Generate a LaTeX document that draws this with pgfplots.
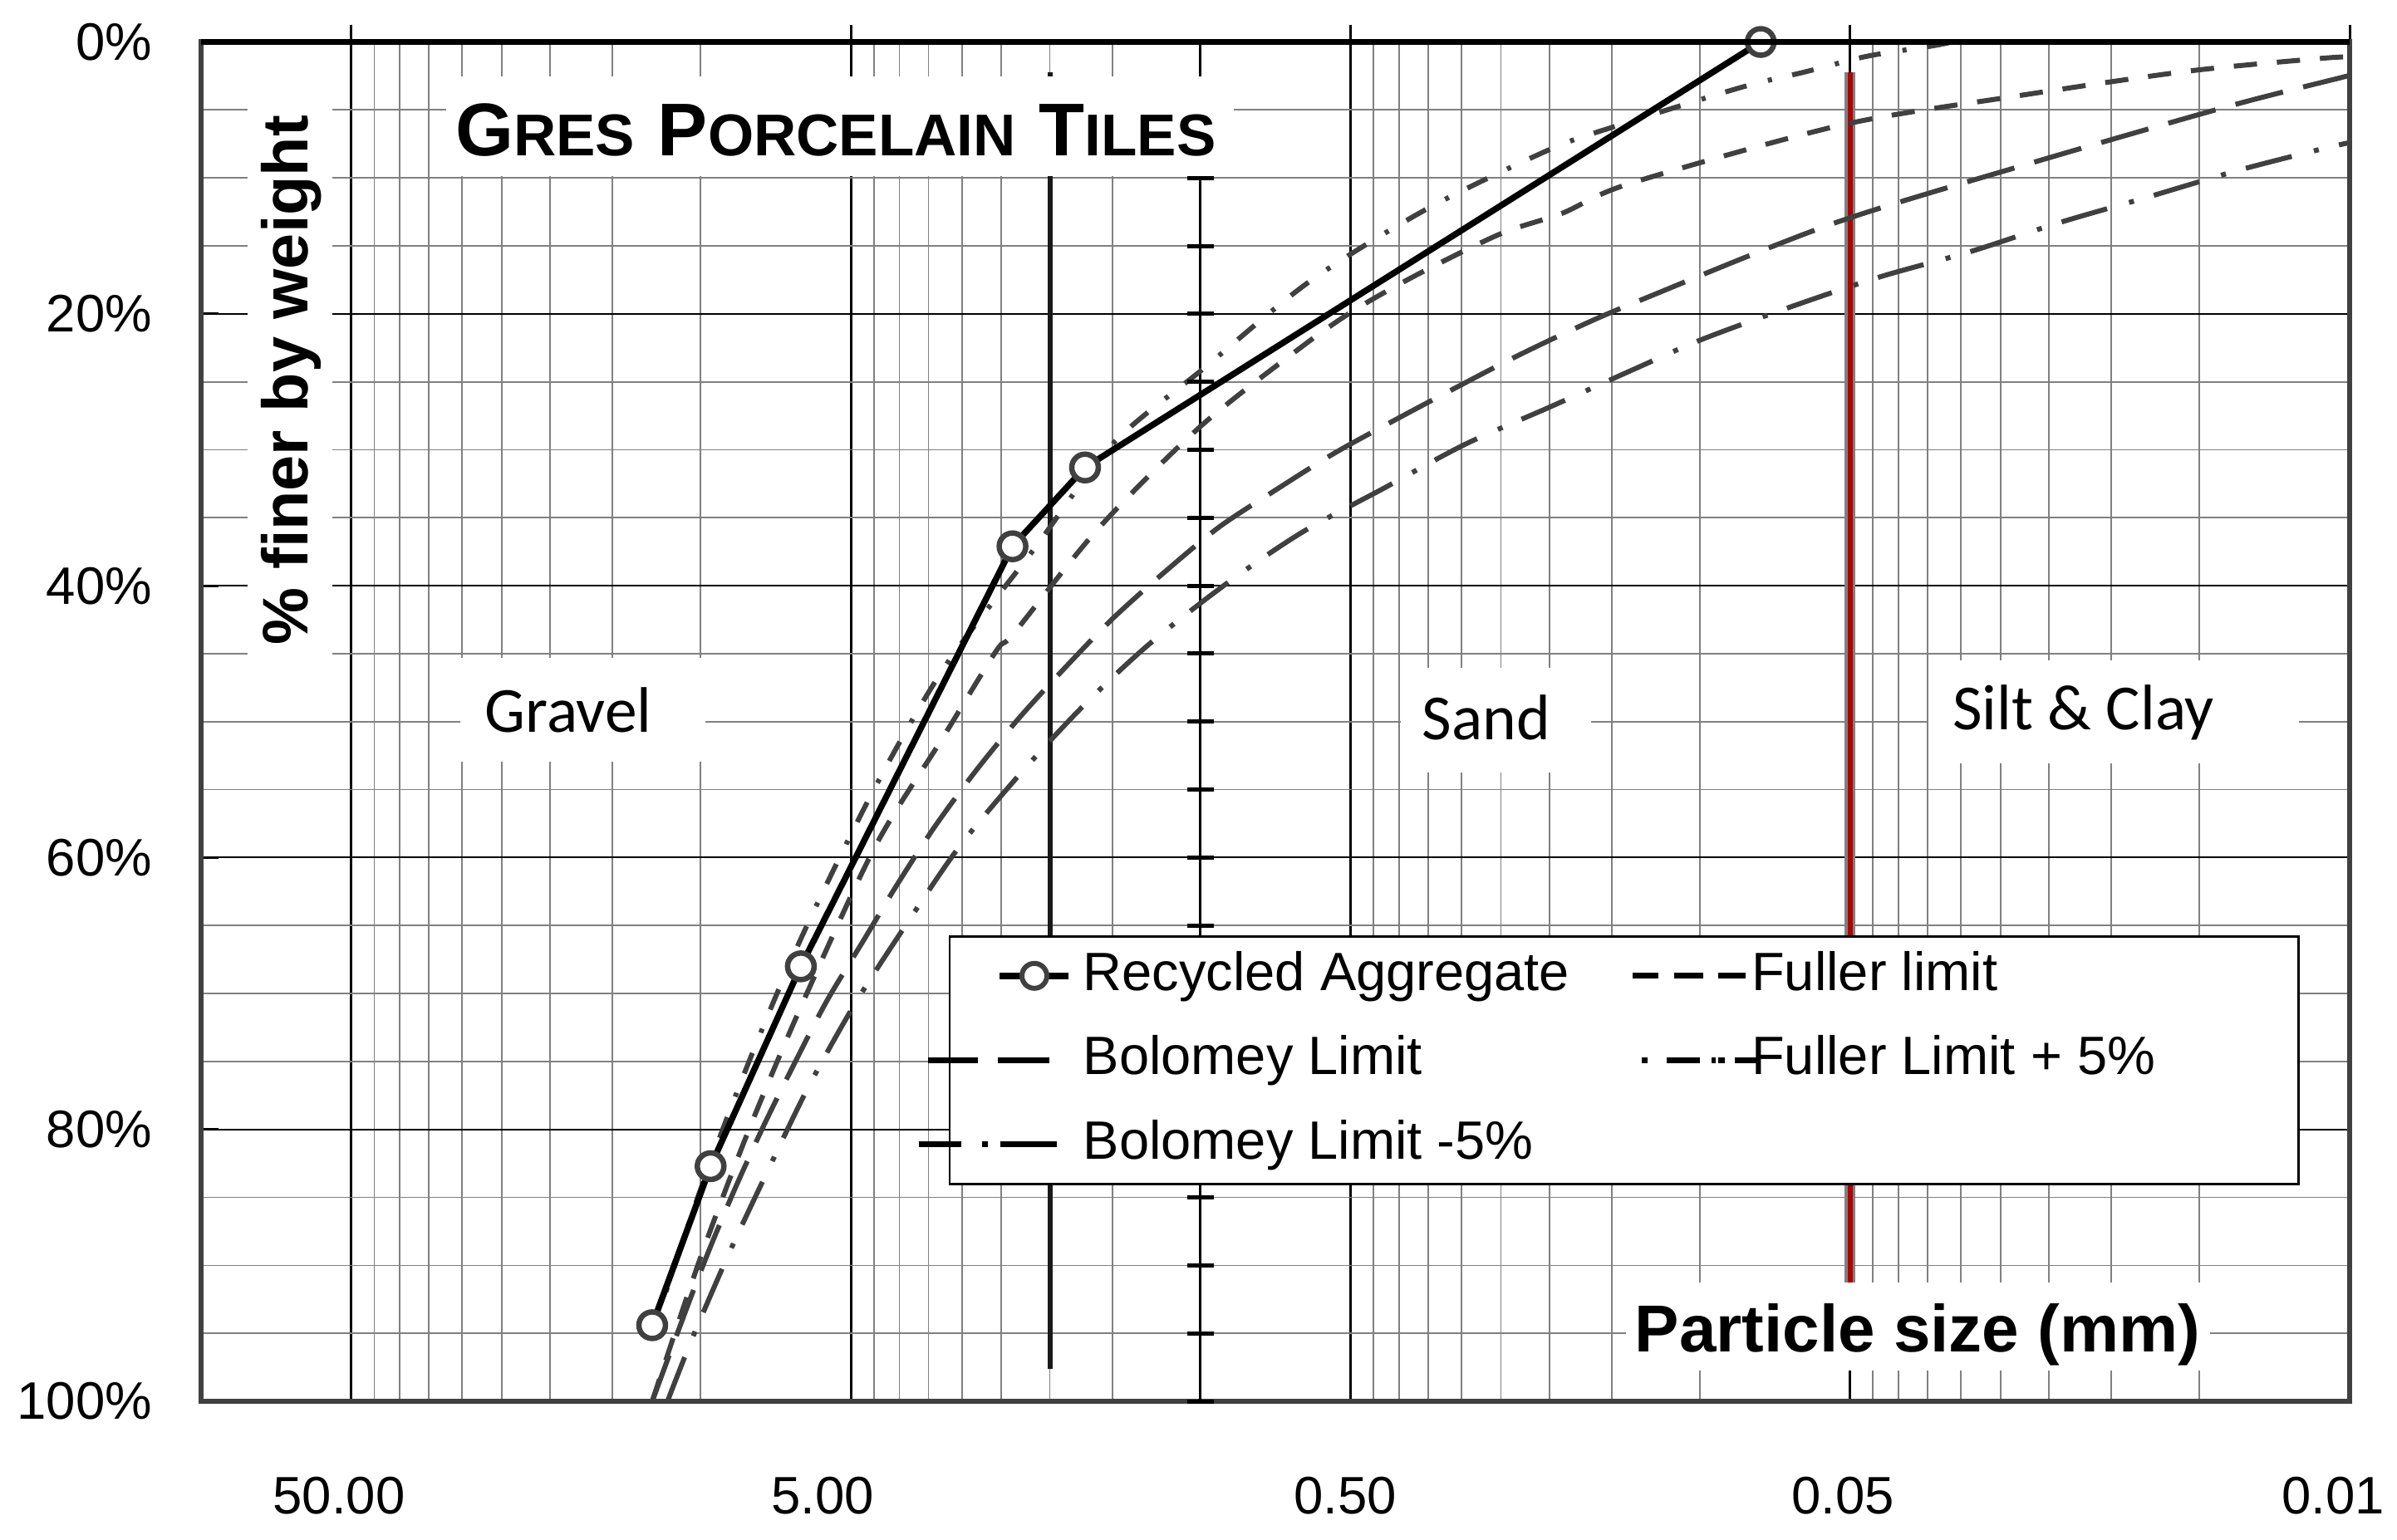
\documentclass[border=0pt]{standalone}
\usepackage{fontspec}
\setmainfont{Liberation Sans}
\newfontfamily\calibri{Carlito}
\usepackage{pgfplots}
\usepackage{pgfplotstable}
\pgfplotsset{compat=1.18}

\definecolor{dgray}{HTML}{404040}
\definecolor{mgray}{HTML}{808080}
\definecolor{redline}{HTML}{B00000}

\newcommand{\bigc}[1]{{\fontsize{18}{18}\selectfont #1}}
\newcommand{\smc}[1]{{\fontsize{14.2}{14.2}\selectfont #1}}

% recycled aggregate, particle size (mm) vs % finer
\pgfplotstableread{
x y
25 94.4
19.1 82.7
12.6 68.0
4.75 37.1
3.4 31.3
0.151 0
}\recycled

% Fuller limit
\pgfplotstableread{
x y
25 100
20 89.4
16 80.0
12.5 70.7
8.95 59.2
6.58 51.3
5.12 44.8
4.72 43.5
3.2 35.8
2.0 28.3
1.25 22.4
0.97 19.6
0.7255 17.0
0.5 14.1
0.377 12.6
0.2754 10.4
0.1043 6.12
0.0465 3.98
0.0211 2.15
0.01143 1.21
0.01 1.1
}\fuller

% Fuller limit + 5%
\pgfplotstableread{
x y
25 95.0
20 84.4
16 75.0
12.5 65.7
9 55.0
6.5 46.0
4.3 37.3
3.0 29.6
1.966 24.0
1.206 17.6
0.7047 12.3
0.4004 7.93
0.295 6.2
0.1656 3.35
0.123 2.2
0.0925 1.05
0.0687 0.3
0.0625 0
}\fullerfive

% Bolomey limit
\pgfplotstableread{
x y
25 100
21.2 92.9
19.1 88.6
16.95 84.1
14.9 79.6
13.0 75.2
11.2 70.6
9.44 66.1
8.12 62.1
6.79 57.7
5.62 53.6
4.6 49.7
3.70 45.9
2.99 42.4
2.357 39.0
1.835 35.7
1.418 33.0
1.083 30.3
0.8236 27.9
0.6205 25.5
0.47 23.2
0.352 21.0
0.263 19.0
0.109 13.4
0.044 8.97
0.0176 4.76
0.0103 2.58
0.01 2.45
}\bolomey

% Bolomey limit -5%
\pgfplotstableread{
x y
23.3 100
20.8 95.4
17.54 89.1
14.66 83.0
12.14 76.8
9.80 70.7
7.78 65.0
6.07 59.2
4.6 53.9
3.44 48.9
2.549 44.4
1.78 39.9
1.254 36.1
0.865 32.9
0.59 29.6
0.396 26.8
0.268 24.0
0.1986 21.9
0.1318 19.5
0.0875 17.3
0.0572 15.4
0.0382 13.3
0.0253 11.4
0.0167 9.44
0.01137 7.87
0.01 7.4
}\bolomeyfive

\begin{document}
\begin{tikzpicture}
\begin{axis}[
  name=ax, at={(0pt,0pt)}, anchor=south west,
  scale only axis, width=517.2pt, height=327.3pt,
  xmode=log, x dir=reverse, xmin=0.01, xmax=200,
  y dir=reverse, ymin=0, ymax=100,
  xtick={0.01,0.1,1,10,100}, xticklabels={,,,,},
  minor xtick={0.02,0.03,0.04,0.05,0.06,0.07,0.08,0.09,0.2,0.3,0.4,0.5,0.6,0.7,0.8,0.9,2,3,4,5,6,7,8,9,20,30,40,50,60,70,80,90},
  ytick={0,20,40,60,80,100},
  yticklabels={\mbox{0\%},\mbox{20\%},\mbox{40\%},\mbox{60\%},\mbox{80\%},\mbox{100\%}},
  minor ytick={5,10,15,25,30,35,45,50,55,65,70,75,85,90,95},
  extra x ticks={105.9,11.40,1.0248,0.10335,0.010788},
  extra x tick labels={\mbox{50.00},\mbox{5.00},\mbox{0.50},\mbox{0.05},\mbox{0.01}},
  extra x tick style={grid=none, tick style={draw=none}},
  xtick pos=right, xticklabel pos=left,
  ytick pos=left, yticklabel pos=left,
  xtick align=outside, ytick align=inside,
  major tick length=4.2pt, minor tick length=0pt,
  major tick style={black, line width=0.6pt},
  xmajorgrids, ymajorgrids, xminorgrids, yminorgrids,
  major x grid style={black, line width=0.6pt},
  major y grid style={black, line width=0.4pt},
  minor grid style={mgray, line width=0.35pt},
  axis line style={dgray, line width=1.3pt},
  tick label style={font=\fontsize{12.7}{12.7}\selectfont, black},
  xticklabel style={anchor=north, inner sep=0pt, yshift=-13.8pt},
  yticklabel style={anchor=east, inner sep=0pt, xshift=-11.6pt},
  legend columns=2,
  legend cell align=left,
  legend style={at={(axis description cs:0.34803,0.34280)}, anchor=north west,
    draw=black, line width=0.5pt, fill=white,
    inner xsep=0pt, inner ysep=2.5pt, row sep=6.3pt,
    font=\fontsize{13}{13}\selectfont,
    nodes={inner sep=0pt, text height=10.5pt, text depth=3.5pt}},
]

% reference lines
\addplot[forget plot, black, line width=0.6pt, mark=-, mark size=3.2pt,
  mark options={line width=1pt}] coordinates {
  (2,0) (2,5) (2,10) (2,15) (2,20) (2,25) (2,30) (2,35) (2,40) (2,45) (2,50)
  (2,55) (2,60) (2,65) (2,70) (2,75) (2,80) (2,85) (2,90) (2,95) (2,100)};
\addplot[forget plot, black!90, line width=1.2pt] coordinates {(4,2.2) (4,97.6)};
\addplot[forget plot, mgray, line width=2.6pt] coordinates {(0.1,2.2) (0.1,97.6)};
\addplot[forget plot, redline, line width=1.2pt] coordinates {(0.1,2.2) (0.1,97.6)};

% grading limits
\addplot[forget plot, dgray, line width=1.2pt, smooth, dash pattern=on 5.6pt off 4.8pt]
  table[x=x,y=y] {\fuller};
\addplot[forget plot, dgray, line width=1.2pt, smooth, dash pattern=on 5.3pt off 5.3pt on 1pt off 5pt]
  table[x=x,y=y] {\fullerfive};
\addplot[forget plot, dgray, line width=1.2pt, smooth, dash pattern=on 11.8pt off 5pt]
  table[x=x,y=y] {\bolomey};
\addplot[forget plot, dgray, line width=1.2pt, smooth, dash pattern=on 11.4pt off 5.5pt on 1.2pt off 5pt]
  table[x=x,y=y] {\bolomeyfive};

% recycled aggregate
\addplot[forget plot, black, line width=1.5pt, mark=*, mark size=3.2pt,
  mark options={draw=dgray, fill=white, line width=1.3pt, solid}]
  table[x=x,y=y] {\recycled};

% legend
\addlegendimage{legend image code/.code={
  \path (0pt,0pt) (31.6pt,0pt);
  \draw[overlay, black, line width=1.5pt] (11.8pt,0pt) -- (28.4pt,0pt);
  \draw[overlay, dgray, fill=white, line width=1.2pt] (20.1pt,0pt) circle (3pt);}}
\addlegendentry{\makebox[131.4pt][l]{Recycled Aggregate}}
\addlegendimage{legend image code/.code={
  \path (0pt,0pt) (29pt,0pt);
  \draw[overlay, black, line width=1.4pt] (0.6pt,0pt) -- (6.9pt,0pt)
    (10.6pt,0pt) -- (17.6pt,0pt) (21.3pt,0pt) -- (27.9pt,0pt);}}
\addlegendentry{\makebox[131.6pt][l]{Fuller limit}}
\addlegendimage{legend image code/.code={
  \path (0pt,0pt) (31.6pt,0pt);
  \draw[overlay, black, line width=1.4pt] (-5.4pt,0pt) -- (6.6pt,0pt)
    (11.3pt,0pt) -- (23.7pt,0pt);}}
\addlegendentry{\makebox[131.4pt][l]{Bolomey Limit}}
\addlegendimage{legend image code/.code={
  \path (0pt,0pt) (29pt,0pt);
  \draw[overlay, black, line width=1.4pt] (2.9pt,0pt) -- (4.3pt,0pt)
    (8.9pt,0pt) -- (16.9pt,0pt) (19.6pt,0pt) -- (20.6pt,0pt)
    (21.2pt,0pt) -- (22.9pt,0pt) (25.2pt,0pt) -- (30.6pt,0pt);}}
\addlegendentry{\makebox[131.6pt][l]{Fuller Limit + 5\%}}
\addlegendimage{legend image code/.code={
  \path (0pt,0pt) (31.6pt,0pt);
  \draw[overlay, black, line width=1.4pt] (-7.7pt,0pt) -- (2.6pt,0pt)
    (7.6pt,0pt) -- (9pt,0pt) (12pt,0pt) -- (25.6pt,0pt);}}
\addlegendentry{\makebox[131.4pt][l]{Bolomey Limit -5\%}}
\end{axis}

% frame top
\draw[black, line width=1.4pt] (0pt,327.3pt) -- (517.2pt,327.3pt);

% labels on white patches
\fill[white] (59pt,295pt) rectangle (248.6pt,319pt);
\node[anchor=base west, inner sep=0pt, font=\bfseries] at (61pt,300pt)
  {\bigc{G}\smc{RES}\hspace{5.6pt}\bigc{P}\smc{ORCELAIN}\hspace{5.6pt}\bigc{T}\smc{ILES}};

\fill[white] (11.2pt,177.4pt) rectangle (31.6pt,314.4pt);
\node[rotate=90, inner sep=0pt, font=\bfseries\fontsize{15.5}{15.5}\selectfont]
  at (21.7pt,245.9pt) {\% finer by weight};

\fill[white] (62.4pt,154pt) rectangle (121.4pt,179pt);
\node[anchor=base, inner sep=0pt, font=\calibri\fontsize{15.5}{15.5}\selectfont]
  at (88.4pt,161.2pt) {Gravel};

\fill[white] (288.8pt,151.4pt) rectangle (334.6pt,176.6pt);
\node[anchor=base, inner sep=0pt, font=\calibri\fontsize{15.5}{15.5}\selectfont]
  at (309.4pt,159.4pt) {Sand};

\fill[white] (415.8pt,153.6pt) rectangle (505pt,178.4pt);
\node[anchor=base, inner sep=0pt, font=\calibri\fontsize{15.5}{15.5}\selectfont]
  at (453.1pt,161.8pt) {Silt \& Clay};

\fill[white] (343pt,7.4pt) rectangle (483.6pt,28.6pt);
\node[anchor=base, inner sep=0pt, font=\bfseries\fontsize{16}{16}\selectfont]
  at (413.2pt,12pt) {Particle size (mm)};

\pgfresetboundingbox
\path[use as bounding box] (-48.4pt,-33.2pt) rectangle (528.6pt,337.4pt);
\end{tikzpicture}
\end{document}
